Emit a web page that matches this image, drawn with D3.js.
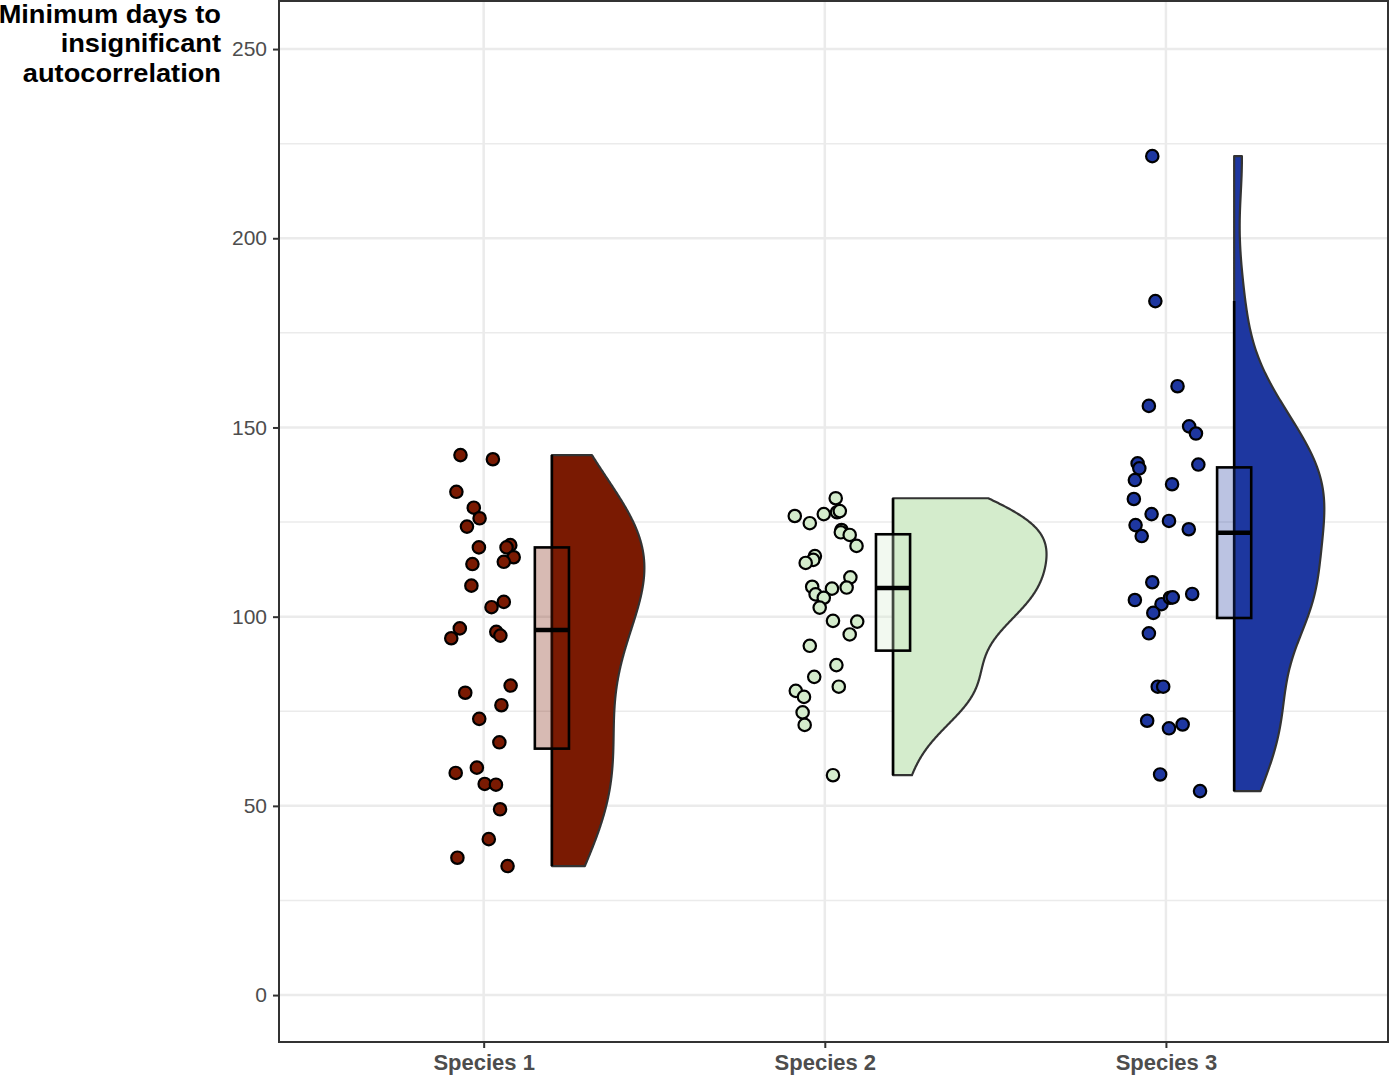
<!DOCTYPE html>
<html>
<head>
<meta charset="utf-8">
<script src="https://cdn.jsdelivr.net/npm/d3@7"></script>
<style>
  html, body { margin: 0; padding: 0; background: #fff; }
  svg { display: block; }
</style>
</head>
<body>
<svg id="chart" width="1390" height="1076"></svg>
<script>
// ---------------- DATA ----------------
const categories = ["Species 1", "Species 2", "Species 3"];
const seriesColors = ["#7A1A02", "#D4ECCC", "#1E37A0"];

const species1Values = [142.7,141.6,133.0,128.8,126.0,123.8,118.3,118.9,118.3,115.7,114.5,113.9,108.2,103.9,102.5,96.9,94.3,96.0,95.0,79.9,81.8,76.6,73.0,66.8,60.1,58.7,55.8,55.6,49.1,41.2,36.3,34.1];
const species1Jitter = [-0.068,0.027,-0.080,-0.029,-0.012,-0.049,-0.014,0.078,0.067,0.088,0.059,-0.033,-0.036,0.059,0.023,-0.070,-0.095,0.037,0.049,-0.054,0.079,0.052,-0.013,0.046,-0.020,-0.082,0.003,0.036,0.048,0.015,-0.077,0.070];

const species2Values = [131.3,127.6,127.9,126.6,127.1,124.7,122.9,122.3,121.6,118.7,116.0,115.0,114.2,110.4,107.7,107.4,107.9,105.9,105.0,102.4,98.7,98.9,95.3,92.3,87.2,84.1,81.5,80.4,78.8,74.7,71.4,58.1];
const species2Jitter = [0.032,0.036,0.044,-0.088,-0.003,-0.044,0.049,0.047,0.073,0.093,-0.029,-0.034,-0.056,0.075,0.064,0.021,-0.037,-0.027,-0.003,-0.015,0.095,0.024,0.073,-0.044,0.034,-0.031,0.041,-0.085,-0.061,-0.065,-0.059,0.024];

const species3Values = [221.7,183.4,160.9,155.7,150.3,148.4,140.5,139.2,140.2,136.1,135.0,131.1,127.1,125.3,124.2,121.3,123.1,109.1,104.4,103.3,105.0,105.1,106.0,101.0,95.6,81.5,81.5,72.5,70.5,71.5,58.3,53.9];
const species3Jitter = [-0.040,-0.031,0.034,-0.050,0.068,0.088,-0.083,-0.078,0.095,-0.091,0.018,-0.094,-0.042,0.009,-0.089,-0.071,0.067,-0.040,-0.091,-0.013,0.012,0.020,0.077,-0.037,-0.050,-0.024,-0.008,-0.055,0.009,0.049,-0.017,0.100];

const yTicks = [0, 50, 100, 150, 200, 250];
const yMinorTicks = [25, 75, 125, 175, 225];
const yTitleLines = ["Minimum days to", "insignificant", "autocorrelation"];

// ---------------- LAYOUT ----------------
const panel = { left: 279, right: 1388, top: 1, bottom: 1042 };
const svg = d3.select("#chart");
const FONT = "'Liberation Sans', Arial, Helvetica, sans-serif";

const x = d3.scaleLinear().domain([0.4, 3.651]).range([panel.left, panel.right]);
const y = d3.scaleLinear().domain([-12.4, 262.7]).range([panel.bottom, panel.top]);

const groups = [
  { name: categories[0], values: species1Values, jitter: species1Jitter, color: seriesColors[0] },
  { name: categories[1], values: species2Values, jitter: species2Jitter, color: seriesColors[1] },
  { name: categories[2], values: species3Values, jitter: species3Jitter, color: seriesColors[2] }
];

// grid
const grid = svg.append("g");
grid.selectAll(".minor").data(yMinorTicks).join("line")
  .attr("x1", panel.left).attr("x2", panel.right)
  .attr("y1", d => y(d)).attr("y2", d => y(d))
  .attr("stroke", "#ebebeb").attr("stroke-width", 1.5);
grid.selectAll(".major").data(yTicks).join("line")
  .attr("x1", panel.left).attr("x2", panel.right)
  .attr("y1", d => y(d)).attr("y2", d => y(d))
  .attr("stroke", "#ebebeb").attr("stroke-width", 2.5);
grid.selectAll(".vmajor").data(categories).join("line")
  .attr("x1", (d, i) => x(i + 1)).attr("x2", (d, i) => x(i + 1))
  .attr("y1", panel.top).attr("y2", panel.bottom)
  .attr("stroke", "#ebebeb").attr("stroke-width", 2.5);

// KDE helpers (R nrd0 bandwidth, gaussian kernel)
function nrd0(vals) {
  const s = vals.slice().sort(d3.ascending);
  const sd = d3.deviation(s);
  const iqr = d3.quantileSorted(s, 0.75) - d3.quantileSorted(s, 0.25);
  let lo = Math.min(sd, iqr / 1.34);
  if (!(lo > 0)) lo = sd || Math.abs(s[0]) || 1;
  return 0.9 * lo * Math.pow(s.length, -0.2);
}
function kde(vals, n) {
  const bw = nrd0(vals);
  const mn = d3.min(vals), mx = d3.max(vals);
  const out = [];
  for (let i = 0; i < n; i++) {
    const t = mn + (mx - mn) * i / (n - 1);
    let s = 0;
    for (const v of vals) { const z = (t - v) / bw; s += Math.exp(-0.5 * z * z); }
    out.push([t, s / (vals.length * bw * Math.sqrt(2 * Math.PI))]);
  }
  return out;
}

groups.forEach(g => { g.dens = kde(g.values, 512); });
const maxDens = d3.max(groups, g => d3.max(g.dens, d => d[1]));
const violinNudge = 0.2, violinHalf = 0.45, boxWidth = 0.1;

const marks = svg.append("g");
groups.forEach((g, i) => {
  const cx = i + 1 + violinNudge;
  const x0 = x(cx);
  const pxPerUnit = x(1) - x(0);
  const pts = [[x0, y(g.dens[0][0])]];
  g.dens.forEach(d => pts.push([x0 + d[1] / maxDens * violinHalf * pxPerUnit, y(d[0])]));
  pts.push([x0, y(g.dens[g.dens.length - 1][0])]);
  marks.append("path")
    .attr("d", d3.line()(pts) + "Z")
    .attr("fill", g.color)
    .attr("stroke", "#333333").attr("stroke-width", 2.2).attr("stroke-linejoin", "round");

  // box stats
  const s = g.values.slice().sort(d3.ascending);
  const q1 = d3.quantileSorted(s, 0.25), med = d3.quantileSorted(s, 0.5), q3 = d3.quantileSorted(s, 0.75);
  const iqr = q3 - q1;
  const lw = d3.min(s.filter(v => v >= q1 - 1.5 * iqr));
  const uw = d3.max(s.filter(v => v <= q3 + 1.5 * iqr));
  marks.append("line")
    .attr("x1", x0).attr("x2", x0).attr("y1", y(lw)).attr("y2", y(uw))
    .attr("stroke", "#000").attr("stroke-width", 2.6);
  const bx0 = x(cx - boxWidth / 2), bx1 = x(cx + boxWidth / 2);
  marks.append("rect")
    .attr("x", bx0).attr("y", y(q3)).attr("width", bx1 - bx0).attr("height", y(q1) - y(q3))
    .attr("fill", g.color).attr("fill-opacity", 0.3)
    .attr("stroke", "#000").attr("stroke-width", 2.6);
  marks.append("line")
    .attr("x1", bx0).attr("x2", bx1).attr("y1", y(med)).attr("y2", y(med))
    .attr("stroke", "#000").attr("stroke-width", 4.5);

  // points
  marks.append("g").selectAll("circle").data(g.values).join("circle")
    .attr("cx", (d, j) => x(i + 1 + g.jitter[j]))
    .attr("cy", d => y(d))
    .attr("r", 6.2)
    .attr("fill", g.color)
    .attr("stroke", "#000").attr("stroke-width", 2.2);
});

// panel border
svg.append("rect")
  .attr("x", panel.left).attr("y", panel.top)
  .attr("width", panel.right - panel.left).attr("height", panel.bottom - panel.top)
  .attr("fill", "none").attr("stroke", "#333333").attr("stroke-width", 2);

// y axis
const yAxis = svg.append("g").attr("transform", `translate(${panel.left},0)`)
  .call(d3.axisLeft(y).tickValues(yTicks).tickSize(6).tickPadding(6).tickFormat(d3.format("d")));
yAxis.select(".domain").remove();
yAxis.selectAll(".tick line").attr("stroke", "#333333").attr("stroke-width", 2);
yAxis.selectAll(".tick text")
  .attr("fill", "#4d4d4d").attr("font-family", FONT)
  .attr("font-size", 21);

// x axis
const xAxis = svg.append("g").attr("transform", `translate(0,${panel.bottom})`)
  .call(d3.axisBottom(x).tickValues([1, 2, 3]).tickSize(6).tickPadding(6).tickFormat(d => categories[d - 1]));
xAxis.select(".domain").remove();
xAxis.selectAll(".tick line").attr("stroke", "#333333").attr("stroke-width", 2);
xAxis.selectAll(".tick text")
  .attr("fill", "#4d4d4d").attr("font-family", FONT)
  .attr("font-size", 22).attr("font-weight", "bold");

// y title (slightly widened glyphs to match the reference)
svg.append("g").selectAll("g").data(yTitleLines).join("g")
  .attr("transform", (d, i) => `translate(221,${23 + i * 29.3}) scale(1.09,1)`)
  .append("text")
  .attr("x", 0).attr("y", 0)
  .attr("text-anchor", "end")
  .attr("font-family", FONT)
  .attr("font-weight", "bold").attr("font-size", 25)
  .attr("fill", "#000")
  .text(d => d);
</script>
</body>
</html>
